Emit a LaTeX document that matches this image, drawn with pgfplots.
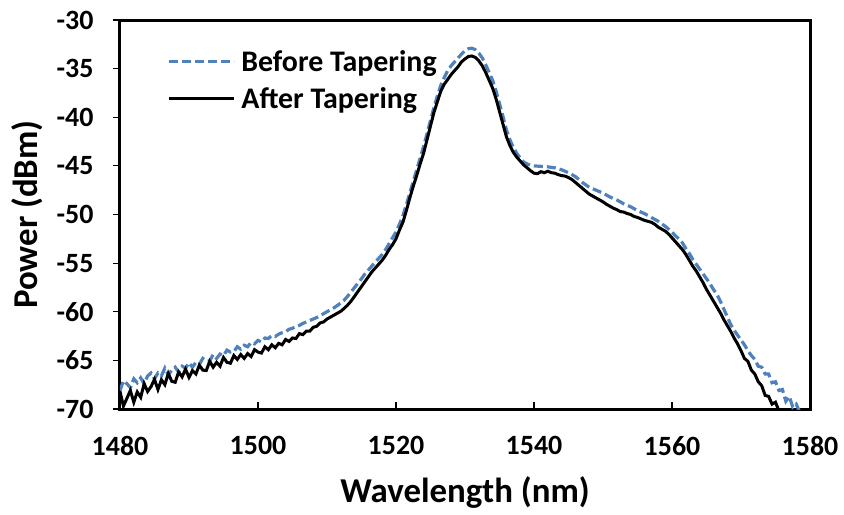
\documentclass[border=0pt]{standalone}
\usepackage{pgfplots}
\usepackage{pgfplotstable}
\pgfplotsset{compat=1.18}
\usepackage{fontspec}
\setmainfont{Carlito}
\definecolor{exblue}{RGB}{79,129,189}

\pgfplotstableread{
wl p
1480.0 -68.1
1480.5 -67.1
1481.0 -67.4
1481.5 -67.8
1482.0 -66.9
1482.5 -67.3
1483.0 -66.8
1483.5 -67.4
1484.0 -66.6
1484.5 -66.3
1485.0 -66.9
1485.5 -66.3
1486.0 -66.6
1486.5 -65.8
1487.0 -66.5
1487.5 -66.0
1488.0 -65.7
1488.5 -66.2
1489.0 -65.6
1489.5 -65.8
1490.0 -65.25
1490.5 -65.7
1491.0 -65.2
1491.5 -65.4
1492.0 -64.8
1492.5 -65.05
1493.0 -65.05
1493.5 -64.4
1494.0 -64.8
1494.5 -64.35
1495.0 -64.5
1495.5 -63.95
1496.0 -64.15
1496.5 -64.1
1497.0 -63.6
1497.5 -63.85
1498.0 -63.45
1498.5 -63.6
1499.0 -63.15
1499.5 -63.3
1500.0 -62.95
1500.5 -63.1
1501.0 -62.7
1501.5 -62.75
1502.0 -62.45
1502.5 -62.55
1503.0 -62.3
1503.5 -62.15
1504.0 -62.05
1504.5 -61.8
1505.0 -61.7
1505.5 -61.5
1506.0 -61.4
1506.5 -61.2
1507.0 -61.05
1507.5 -60.9
1508.0 -60.75
1508.5 -60.6
1509.0 -60.4
1509.5 -60.2
1510.0 -60.0
1510.5 -59.8
1511.0 -59.6
1511.5 -59.35
1512.0 -59.1
1512.5 -58.8
1513.0 -58.4
1513.5 -57.95
1514.0 -57.5
1514.5 -57.05
1515.0 -56.6
1515.5 -56.1
1516.0 -55.7
1516.5 -55.3
1517.0 -54.9
1517.5 -54.5
1518.0 -54.1
1518.5 -53.6
1519.0 -53.0
1519.5 -52.4
1520.0 -51.8
1520.5 -51.0
1521.0 -50.1
1521.5 -49.0
1522.0 -47.8
1522.5 -46.6
1523.0 -45.4
1523.5 -44.2
1524.0 -43.0
1524.5 -41.7
1525.0 -40.3
1525.5 -39.0
1526.0 -37.8
1526.5 -36.7
1527.0 -35.9
1527.5 -35.2
1528.0 -34.7
1528.5 -34.3
1529.0 -33.9
1529.5 -33.5
1530.0 -33.15
1530.5 -32.95
1531.0 -32.9
1531.5 -33.05
1532.0 -33.4
1532.5 -33.9
1533.0 -34.6
1533.5 -35.4
1534.0 -36.2
1534.5 -37.3
1535.0 -38.6
1535.5 -39.9
1536.0 -41.3
1536.5 -42.3
1537.0 -43.1
1537.5 -43.7
1538.0 -44.2
1538.5 -44.6
1539.0 -44.8
1539.5 -44.95
1540.0 -45.0
1541.0 -45.05
1542.0 -45.1
1543.0 -45.2
1544.0 -45.4
1545.0 -45.7
1546.0 -46.1
1547.0 -46.7
1548.0 -47.2
1549.0 -47.5
1550.0 -47.8
1551.0 -48.2
1552.0 -48.5
1553.0 -48.9
1554.0 -49.2
1555.0 -49.6
1556.0 -49.9
1557.0 -50.3
1558.0 -50.7
1559.0 -51.2
1560.0 -51.8
1560.5 -52.2
1561.0 -52.5
1561.5 -52.9
1562.0 -53.5
1562.5 -54.0
1563.0 -54.6
1563.5 -55.1
1564.0 -55.6
1564.5 -56.1
1565.0 -56.6
1565.5 -57.1
1566.0 -57.7
1566.5 -58.2
1567.0 -58.9
1567.5 -59.7
1568.0 -60.5
1568.5 -61.3
1569.0 -61.9
1569.5 -62.4
1570.0 -62.9
1570.5 -63.4
1571.0 -64.0
1571.5 -64.5
1572.0 -64.9
1572.5 -65.6
1573.0 -65.7
1573.5 -66.4
1574.0 -66.4
1574.5 -67.3
1575.0 -67.2
1575.5 -68.1
1576.0 -68.0
1576.5 -69.2
1577.0 -68.7
1577.5 -69.8
1578.0 -69.5
1578.5 -70.3
}\before

\pgfplotstableread{
wl p
1480.0 -68.2
1480.5 -69.7
1481.0 -68.9
1481.5 -68.1
1482.0 -69.3
1482.5 -68.25
1483.0 -68.8
1483.5 -67.4
1484.0 -68.2
1484.5 -67.7
1485.0 -66.95
1485.5 -68.0
1486.0 -67.0
1486.5 -67.5
1487.0 -66.35
1487.5 -67.15
1488.0 -67.25
1488.5 -66.2
1489.0 -66.7
1489.5 -65.9
1490.0 -66.75
1490.5 -66.05
1491.0 -66.4
1491.5 -65.5
1492.0 -66.0
1492.5 -66.05
1493.0 -65.1
1493.5 -65.7
1494.0 -65.2
1494.5 -65.6
1495.0 -64.7
1495.5 -65.2
1496.0 -65.3
1496.5 -64.5
1497.0 -64.9
1497.5 -64.4
1498.0 -64.8
1498.5 -64.3
1499.0 -64.6
1499.5 -63.9
1500.0 -64.15
1500.5 -64.25
1501.0 -63.6
1501.5 -63.9
1502.0 -63.4
1502.5 -63.7
1503.0 -63.25
1503.5 -63.4
1504.0 -62.85
1504.5 -63.05
1505.0 -62.7
1505.5 -62.75
1506.0 -62.25
1506.5 -62.35
1507.0 -62.0
1507.5 -62.0
1508.0 -61.6
1508.5 -61.5
1509.0 -61.15
1509.5 -61.05
1510.0 -60.75
1510.5 -60.55
1511.0 -60.35
1511.5 -60.15
1512.0 -59.95
1512.5 -59.65
1513.0 -59.3
1513.5 -58.9
1514.0 -58.4
1514.5 -57.9
1515.0 -57.4
1515.5 -56.9
1516.0 -56.4
1516.5 -55.9
1517.0 -55.5
1517.5 -55.1
1518.0 -54.7
1518.5 -54.2
1519.0 -53.6
1519.5 -53.1
1520.0 -52.5
1520.5 -51.6
1521.0 -50.8
1521.5 -49.6
1522.0 -48.3
1522.5 -47.1
1523.0 -46.0
1523.5 -44.8
1524.0 -43.7
1524.5 -42.3
1525.0 -40.9
1525.5 -39.5
1526.0 -38.4
1526.5 -37.3
1527.0 -36.6
1527.5 -36.1
1528.0 -35.6
1528.5 -35.2
1529.0 -34.8
1529.5 -34.3
1530.0 -34.0
1530.5 -33.75
1531.0 -33.7
1531.5 -33.85
1532.0 -34.2
1532.5 -34.7
1533.0 -35.4
1533.5 -36.2
1534.0 -37.0
1534.5 -38.1
1535.0 -39.4
1535.5 -40.7
1536.0 -42.0
1536.5 -42.9
1537.0 -43.6
1537.5 -44.1
1538.0 -44.5
1538.5 -44.9
1539.0 -45.2
1539.5 -45.5
1540.0 -45.75
1540.5 -45.8
1541.0 -45.6
1541.5 -45.7
1542.0 -45.55
1542.5 -45.7
1543.0 -45.75
1543.5 -45.9
1544.0 -46.0
1544.5 -46.05
1545.0 -46.2
1545.5 -46.4
1546.0 -46.7
1546.5 -47.0
1547.0 -47.3
1547.5 -47.6
1548.0 -47.9
1548.5 -48.1
1549.0 -48.3
1549.5 -48.5
1550.0 -48.7
1550.5 -48.95
1551.0 -49.15
1551.5 -49.35
1552.0 -49.5
1552.5 -49.7
1553.0 -49.75
1553.5 -49.9
1554.0 -50.0
1554.5 -50.2
1555.0 -50.3
1555.5 -50.45
1556.0 -50.6
1556.5 -50.7
1557.0 -50.8
1557.5 -51.0
1558.0 -51.3
1558.5 -51.5
1559.0 -51.7
1559.5 -52.0
1560.0 -52.4
1560.5 -52.8
1561.0 -53.2
1561.5 -53.6
1562.0 -54.1
1562.5 -54.7
1563.0 -55.3
1563.5 -55.8
1564.0 -56.4
1564.5 -57.0
1565.0 -57.7
1565.5 -58.3
1566.0 -58.9
1566.5 -59.5
1567.0 -60.1
1567.5 -60.8
1568.0 -61.4
1568.5 -62.0
1569.0 -62.7
1569.5 -63.3
1570.0 -64.0
1570.5 -64.8
1571.0 -65.1
1571.5 -66.0
1572.0 -66.4
1572.5 -67.2
1573.0 -67.6
1573.5 -68.6
1574.0 -68.7
1574.5 -69.5
1575.0 -69.3
1575.5 -70.2
1576.0 -70.5
}\after

\begin{document}
\begin{tikzpicture}
\useasboundingbox (-120bp,-106bp) rectangle (724bp,409bp);
\begin{axis}[
  at={(0,0)}, anchor=south west,
  scale only axis, width=690bp, height=389bp,
  xmin=1480, xmax=1580, ymin=-70, ymax=-30,
  xtick={1480,1500,...,1580}, ytick={-70,-65,...,-30},
  xtick pos=bottom, ytick pos=left,
  tick align=inside, major tick length=7bp,
  tick style={line width=1.2bp, black},
  major y tick style={xshift=-7bp},
  axis line style={line width=3bp},
  /pgf/number format/assume math mode=true,
  /pgf/number format/1000 sep={},
  tick label style={font=\fontsize{28}{32}\selectfont\bfseries},
  xticklabel={\bfseries\pgfmathprintnumber{\tick}},
  yticklabel={\bfseries\pgfmathprintnumber{\tick}},
  xticklabel style={yshift=-24bp},
  yticklabel style={xshift=-23bp},
  xlabel={Wavelength (nm)},
  ylabel={Power (dBm)},
  label style={font=\fontsize{35}{40}\selectfont\bfseries},
  xlabel style={at={(axis description cs:0.5,0)}, anchor=center, yshift=-84bp},
  ylabel style={at={(axis description cs:0,0.5)}, anchor=center, yshift=93bp},
  legend style={at={(rel axis cs:0,1)}, anchor=north west, xshift=45bp, yshift=-26bp,
    draw=none, fill=none, font=\fontsize{30}{34}\selectfont\bfseries,
    row sep=11bp, column sep=4bp, inner sep=2bp},
  legend cell align=left,
  legend image code/.code={\draw[#1] (0bp,0bp) -- (65bp,0bp);},
]
\addplot[exblue, line width=3.2bp, dash pattern=on 9bp off 4bp] table[x=wl,y=p] {\before};
\addlegendentry{Before Tapering}
\addplot[black, line width=3bp] table[x=wl,y=p] {\after};
\addlegendentry{After Tapering}
\end{axis}
\end{tikzpicture}
\end{document}
